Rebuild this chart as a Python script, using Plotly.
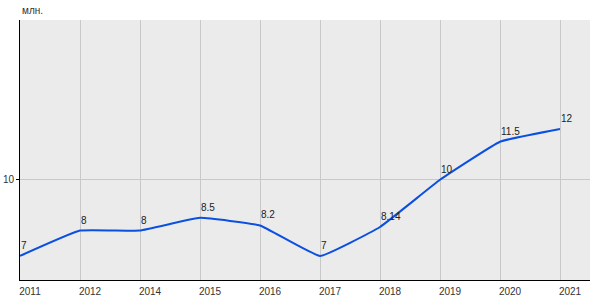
import plotly.graph_objects as go

years = ["2011", "2012", "2014", "2015", "2016", "2017", "2018", "2019", "2020", "2021"]
values = [7, 8, 8, 8.5, 8.2, 7, 8.14, 10, 11.5, 12]
labels = ["7", "8", "8", "8.5", "8.2", "7", "8.14", "10", "11.5", "12"]
y_ticks = [10]
unit = "млн."

xs = list(range(len(years)))
fig = go.Figure()
fig.add_trace(go.Scatter(
    x=xs, y=values, mode="lines",
    line=dict(color="#0a4fe0", width=2, shape="spline", smoothing=0.3),
    cliponaxis=False, hoverinfo="skip",
))
annotations = [dict(
    x=x, y=v, text=t, xref="x", yref="y", showarrow=False,
    xanchor="left", yanchor="bottom", xshift=-1, yshift=3,
    font=dict(family="Arial, Liberation Sans", size=10, color="#222"),
) for x, v, t in zip(xs, values, labels)]
annotations.append(dict(
    text=unit, xref="paper", yref="paper", x=0, y=1,
    xanchor="left", yanchor="bottom", yshift=2, showarrow=False,
    font=dict(size=10, color="#333"),
))
fig.update_layout(
    width=600, height=300,
    margin=dict(l=20, r=10, t=20, b=20, autoexpand=False),
    paper_bgcolor="white", plot_bgcolor="#ebebeb",
    showlegend=False,
    font=dict(family="Arial, Liberation Sans", size=10, color="#333"),
    xaxis=dict(
        tickmode="array", tickvals=xs, ticktext=years,
        range=[0, 9.5], showgrid=True, gridcolor="#c8c8c8", gridwidth=1,
        showline=True, linecolor="black", linewidth=1, zeroline=False,
        ticks="", tickfont=dict(size=10, color="#333"),
        automargin=False, ticklabelshift=10, ticklabelstandoff=2,
    ),
    yaxis=dict(
        tickmode="array", tickvals=y_ticks, ticktext=[str(v) for v in y_ticks],
        range=[6.05, 16.3], showgrid=True, gridcolor="#c8c8c8", gridwidth=1,
        showline=True, linecolor="black", linewidth=1, zeroline=False,
        ticks="outside", ticklen=3, tickcolor="black",
        tickfont=dict(size=10, color="#333"), automargin=False,
    ),
    annotations=annotations,
)
fig.write_html("out.html")
